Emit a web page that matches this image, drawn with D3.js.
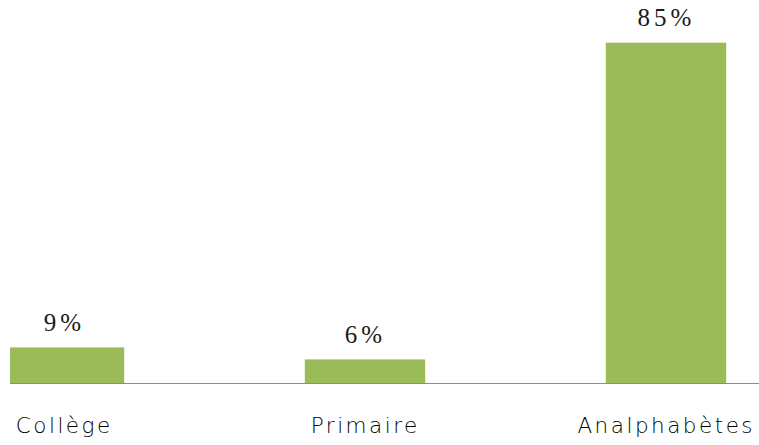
<!DOCTYPE html>
<html><head><meta charset="utf-8">
<script src="https://cdn.jsdelivr.net/npm/d3@7"></script>
<style>body{margin:0;background:#fff}svg{display:block}</style>
</head><body>
<script>
const categories = ["Collège", "Primaire", "Analphabètes"];
const values = [9, 6, 85];
const valueLabels = ["9%", "6%", "85%"];

const W = 759, H = 445;
const svg = d3.select("body").append("svg").attr("width", W).attr("height", H);

const x = d3.scaleBand().domain(categories).range([-86.5, 816.5]).paddingInner(0.6).paddingOuter(0.3);
const y = d3.scaleLinear().domain([0, 85]).range([383.5, 42.7]);

svg.append("defs").append("clipPath").attr("id", "plot")
  .append("rect").attr("x", 10).attr("y", 0).attr("width", W - 10).attr("height", H);

const g = svg.append("g").attr("clip-path", "url(#plot)");
g.selectAll("rect.bar").data(values).join("rect").attr("class", "bar")
  .attr("x", (d, i) => x(categories[i]))
  .attr("width", x.bandwidth())
  .attr("y", d => y(d))
  .attr("height", d => y(0) - y(d))
  .attr("fill", "#9BBB59");

g.append("line").attr("x1", 10).attr("x2", W).attr("y1", y(0)).attr("y2", y(0))
  .attr("stroke", "#8c8c8c").attr("stroke-width", 1);

const ls = 4;
svg.selectAll("text.val").data(values).join("text").attr("class", "val")
  .attr("x", (d, i) => x(categories[i]) + x.bandwidth() / 2 - 1.5 + ls / 2)
  .attr("y", d => y(d) - 16.5)
  .attr("text-anchor", "middle")
  .style("font-family", "'Liberation Serif', serif")
  .style("font-size", "25px").style("letter-spacing", ls + "px")
  .attr("fill", "#1a1a1a")
  .text((d, i) => valueLabels[i]);

const cls = 2.5;
svg.selectAll("text.cat").data(categories).join("text").attr("class", "cat")
  .attr("x", d => x(d) + x.bandwidth() / 2 - 1 + cls / 2)
  .attr("y", 433.3)
  .attr("text-anchor", "middle")
  .style("font-family", "'DejaVu Sans', sans-serif")
  .style("font-weight", 200)
  .style("font-size", "21.5px").style("letter-spacing", cls + "px")
  .attr("fill", "#000")
  .text(d => d);
</script>
</body></html>
